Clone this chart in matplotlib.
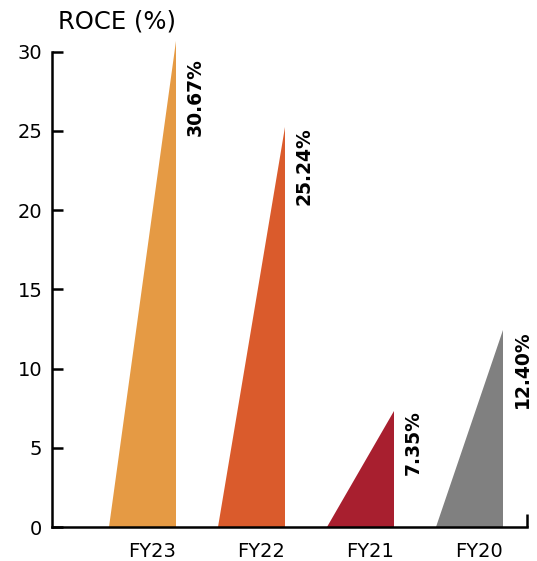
import matplotlib.pyplot as plt

years = ['FY23', 'FY22', 'FY21', 'FY20']
roce = [30.67, 25.24, 7.35, 12.40]
colors = ['#E59A44', '#DA5B2C', '#A81F2F', '#808080']
y_ticks = [0, 5, 10, 15, 20, 25, 30]

plt.rcParams['font.family'] = ['DejaVu Sans']

fig = plt.figure(figsize=(5.37, 5.61), dpi=100)
ax = fig.add_axes([0.0968, 0.0606, 0.884, 0.873])

width = 0.615
offset = 0.22  # правый край треугольника относительно подписи года

for i, (val, col) in enumerate(zip(roce, colors)):
    right = i + offset
    left = right - width
    ax.fill([left, right, right], [0, 0, val], color=col, linewidth=0)
    # подпись не выше верхней отметки оси
    ax.text(right + 0.18, min(val, 29.6), f'{val:.2f}%', rotation=90, ha='center', va='top',
            fontsize=13.5, fontweight='bold', color='black')

ax.set_xlim(-0.917, 3.44)
ax.set_ylim(0, 30.9)
ax.set_xticks(range(len(years)))
ax.set_xticklabels(years)
ax.set_yticks(y_ticks)

ax.spines['top'].set_visible(False)
ax.spines['right'].set_visible(False)
ax.spines['left'].set_bounds(0, 30)
for s in ('left', 'bottom'):
    ax.spines[s].set_linewidth(1.8)

ax.tick_params(axis='y', direction='in', length=8, width=1.8, pad=7, labelsize=14)
ax.tick_params(axis='x', length=0, pad=11, labelsize=14)

# засечка на правом конце оси X
ax.plot([1, 1], [0, 0.027], transform=ax.transAxes, color='black', linewidth=1.8,
        clip_on=False, solid_capstyle='butt')

fig.text(58 / 537, 1 - 21 / 561, 'ROCE (%)', fontsize=17.5, ha='left', va='center')

plt.savefig('out.png', dpi=100)
plt.close()
